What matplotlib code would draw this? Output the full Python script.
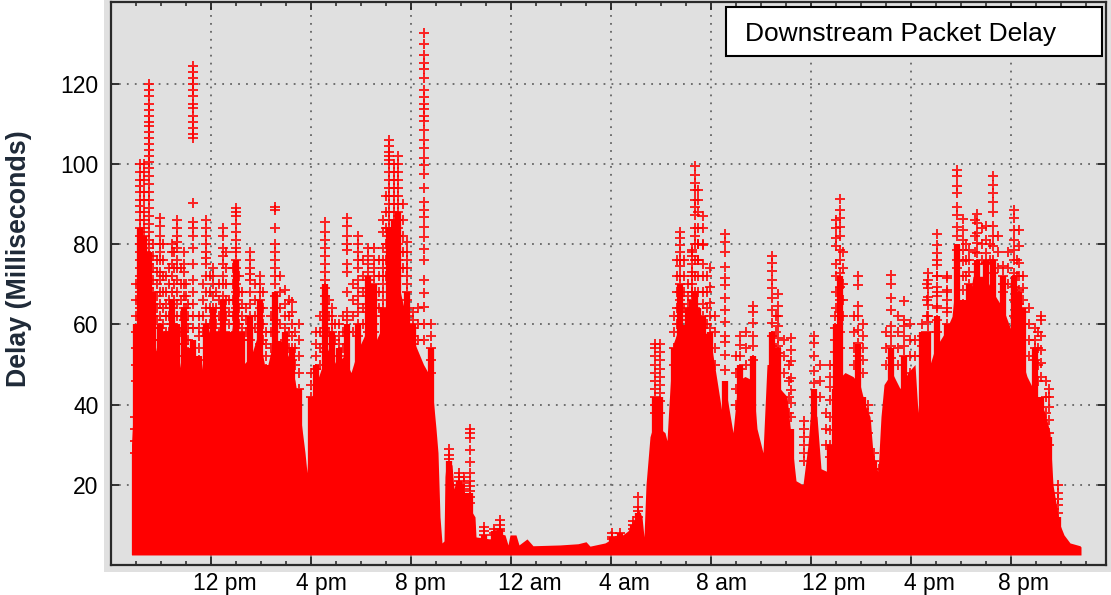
import matplotlib
matplotlib.use('Agg')
import matplotlib.pyplot as plt
from matplotlib.patches import Rectangle

plt.rcParams['font.family'] = ['Liberation Sans', 'DejaVu Sans']

# time axis is in hours counted from midnight of the first day
major_hours = [12, 16, 20, 24, 28, 32, 36, 40, 44]
label_hours = [12.56, 16.4, 20.4, 24.76, 28.52, 32.44, 36.92, 40.72, 44.52]
hour_labels = ['12 pm', '4 pm', '8 pm', '12 am', '4 am', '8 am', '12 pm', '4 pm', '8 pm']
delay_ticks = [20, 40, 60, 80, 100, 120]
floor_delay = 2.5

# top of the solid red body
body_hours = [8.82, 8.92, 9.04, 9.2, 9.4, 9.6, 9.76, 9.92, 10.1, 10.3, 10.5, 10.7, 10.9, 11.1, 11.3,
              11.5, 11.7, 11.9, 12.1, 12.3, 12.5, 12.7, 12.9, 13.1, 13.3, 13.6, 13.9, 14.2, 14.5, 14.8,
              15.1, 15.36, 15.56, 15.76, 15.84, 15.92, 16.04, 16.36, 16.7, 17.0, 17.3, 17.6, 17.9, 18.2,
              18.6, 18.9, 19.2, 19.5, 19.8, 20.1, 20.5, 20.68, 20.88, 21.0, 21.08, 21.16, 21.24, 21.32,
              21.36, 21.4, 21.64, 21.72, 21.8, 22.12, 22.16, 22.36, 22.56, 22.6, 23.16, 23.44, 23.76,
              23.88, 23.96, 24.2, 24.32, 24.64, 24.88, 25.96, 26.68, 27.0, 27.16, 27.76, 28.04, 28.36,
              28.68, 28.88, 29.08, 29.24, 29.32, 29.4, 29.56, 29.76, 29.96, 30.16, 30.24, 30.32, 30.4,
              30.48, 30.76, 31.16, 31.56, 31.96, 32.24, 32.44, 32.64, 32.88, 33.08, 33.36, 33.68, 33.84,
              34.08, 34.24, 34.48, 34.76, 35.04, 35.24, 35.4, 35.68, 35.88, 36.0, 36.24, 36.4, 36.76,
              36.92, 37.04, 37.36, 37.68, 37.96, 38.16, 38.36, 38.48, 38.68, 38.8, 38.92, 39.24, 39.56,
              39.88, 40.16, 40.28, 40.4, 40.76, 40.96, 41.36, 41.64, 41.84, 42.0, 42.24, 42.48, 42.96,
              43.28, 43.68, 44.04, 44.24, 44.64, 45.04, 45.36, 45.56, 45.68, 45.84, 45.96, 46.12, 46.36,
              46.76, 46.8]
body_delay = [30, 42, 50, 58, 62, 62, 55, 50, 48, 52, 47, 52, 45, 50, 56,
              44, 52, 58, 62, 50, 60, 52, 62, 55, 50, 52, 58, 48, 56, 56,
              52, 46, 38, 28, 23, 33, 42, 48, 54, 50, 52, 48, 54, 58,
              56, 60, 66, 70, 62, 56, 50, 48, 42, 34, 28, 12, 5.5, 6,
              22, 25, 25, 19, 21, 20, 15, 14, 12, 7, 6.5, 8, 7.5,
              5, 7.5, 7.5, 5, 6.5, 4.8, 5, 5.3, 5.8, 4.7, 5.5, 6.5, 7,
              8.5, 10.5, 14, 12, 7, 20, 32, 36, 34, 33, 31, 40, 48,
              55, 60, 60, 59, 57, 46, 38, 42, 33, 46, 47, 46, 34,
              28, 50, 50, 44, 42, 30, 21, 20, 30, 39, 37, 24, 23,
              38, 46, 48, 47, 45, 40, 37, 28, 23, 37, 45, 48, 44,
              48, 50, 38, 50, 50, 54, 58, 62, 74, 62, 62, 72, 72,
              68, 64, 58, 55, 47, 42, 38, 33, 20, 14, 10, 7.5, 5.5,
              4.8, 4.5]

# columns of single samples that stick out above the body
spike_hours = [8.95, 8.98, 9.16, 9.32, 9.52, 9.7, 9.96, 10.2, 10.44, 10.64, 10.92, 11.08, 11.28,
               11.52, 11.8, 12.08, 12.3, 12.48, 12.72, 13.0, 13.24, 13.56, 13.96, 14.2, 14.56, 14.96,
               15.24, 15.5, 16.0, 16.2, 16.56, 16.84, 17.1, 17.44, 17.88, 18.28, 18.52, 18.88, 19.12,
               19.3, 19.48, 19.84, 20.08, 20.52, 20.8, 21.5, 21.9, 22.1, 22.36, 22.9, 23.3, 23.56,
               28.03, 28.36, 28.88, 29.08, 29.76, 29.96, 30.5, 30.76, 31.08, 31.24, 31.36, 31.48, 31.68,
               31.96, 32.56, 33.16, 33.68, 34.44, 34.68, 35.72, 35.2, 36.12, 36.76, 36.96, 37.16, 37.0,
               37.88, 38.08, 38.3, 38.5, 38.7, 39.2, 39.72, 40.44, 40.68, 41.04, 41.44, 41.84, 42.08,
               42.3, 42.64, 43.0, 43.28, 43.68, 44.12, 44.32, 44.48, 44.96, 45.2, 45.52, 45.88]
# height up to which each column has merged into solid red
spike_solid = [28, 60, 84, 82, 78, 68, 60, 58, 66, 60, 64, 54, 56,
               52, 60, 64, 58, 66, 58, 76, 58, 62, 66, 50, 68, 58,
               54, 44, 42, 50, 70, 58, 54, 60, 60, 72, 70, 64, 84,
               86, 88, 68, 60, 48, 54, 26, 21, 18, 18, 7.5, 8.5, 9,
               7, 8, 10, 13, 42, 42, 54, 70, 64, 66, 68, 64, 62,
               58, 46, 50, 52, 58, 54, 20, 34, 44, 30, 44, 72, 60,
               55, 42, 36, 26, 23, 54, 52, 58, 58, 62, 60, 80, 66,
               70, 76, 76, 76, 72, 72, 68, 64, 54, 42, 32, 12]
spike_delays = [
    [37, 34, 31, 28],
    [70, 66, 62, 58, 54, 50, 46],
    [100, 98, 96, 94.5, 93, 91, 89.5, 88, 86, 84, 82, 80, 78, 76, 74, 72, 70, 68, 66, 64, 62],
    [100, 98, 96, 93, 91, 88, 86, 84, 82, 80, 77, 74, 71, 69, 66, 63],
    [120, 118.5, 117, 115, 113.5, 112, 110.5, 109.5, 108, 106.5, 105, 103.5, 102, 100.5, 99, 97, 95, 93,
     91, 89, 87, 85, 83, 81, 79, 77, 75, 73, 71, 69, 67, 65, 63],
    [80, 77, 74, 71, 68, 65, 62, 59, 56],
    [86.5, 84.5, 82, 80, 78, 76, 73, 71, 68, 65, 62, 59, 56, 53],
    [72, 68, 65, 62, 58, 55, 52],
    [80, 78, 75, 72, 68, 64, 60, 56, 52],
    [86, 84, 82, 80.5, 79, 76, 74, 71, 68, 65, 62, 59, 55, 52],
    [78, 75, 73, 70, 67, 64, 61, 58, 55],
    [65, 62, 59, 56, 53, 50],
    [124.5, 123, 121.5, 120, 118.5, 117, 115, 114, 112, 110.5, 109, 107.5, 106.5, 90.3, 85.6, 84, 82, 79,
     75, 71, 68, 65, 62, 59],
    [62, 59, 57, 54, 51],
    [86, 84, 82, 80, 78, 76.5, 75, 72, 68, 64, 60, 57],
    [74, 72, 70, 67, 64, 62, 59, 56],
    [70, 66, 62, 58, 55],
    [84, 82, 79, 77, 75, 72, 70, 67, 64, 61, 58, 56],
    [66, 63, 60, 57, 54],
    [89, 88, 87, 85, 83, 81, 79, 78, 76, 74, 72, 70, 68, 66, 64, 62, 60, 58],
    [68, 65, 62, 59, 56],
    [78, 76, 74, 72.5, 71, 68, 65, 62, 59, 56],
    [72, 70, 68, 66, 64, 62, 60, 58, 55],
    [58, 55, 52, 49],
    [89.3, 88.5, 84, 80, 78, 76, 74, 72, 70, 67, 64, 61, 58],
    [68.6, 65, 62, 59, 56],
    [65.6, 63, 60, 57, 54, 51],
    [60, 56, 52, 48, 44],
    [48, 45, 42],
    [58, 55, 52, 49],
    [85.6, 83, 81, 79, 77, 75, 73, 71, 69, 67, 65, 63, 61, 59, 57, 55, 53],
    [64, 62, 60, 58, 55],
    [60, 57, 55, 52],
    [86.5, 84.5, 82, 80, 78.5, 75, 73, 68, 63, 61, 58],
    [82, 80, 78, 76, 74, 71, 69, 67, 65, 63, 60, 57],
    [79, 77, 75, 73, 71, 69, 67, 65, 63, 60, 58],
    [79, 76, 74, 72, 70, 68, 66, 64, 62, 60, 58],
    [86, 83, 79, 76, 74, 72, 70, 68, 66, 64, 62],
    [106, 104.5, 103, 102, 101, 100, 98, 96, 94, 92, 90, 88, 86, 84, 82, 80, 78, 76, 74, 72],
    [100, 98, 96, 94, 92, 90, 88, 86, 84, 82, 80, 78, 76, 74, 72, 70],
    [102, 100, 98, 96, 94, 92, 90, 88, 86, 84, 82, 80, 78, 76, 74, 72],
    [80.6, 78, 76, 74, 72, 70, 68, 66, 64, 62, 60],
    [63, 61, 59, 57, 55, 53],
    [132.6, 130, 127.2, 125.2, 123.7, 121.4, 118.5, 116.7, 115, 113.7, 112, 110.6, 108.5, 105.9, 104,
     101.5, 99.8, 97.6, 94, 90.6, 88.6, 86.9, 84.4, 81.9, 78.8, 76, 71.1, 67.8, 64.3, 60, 56],
    [60, 57, 54, 51, 48],
    [29, 27.5, 26.5],
    [23, 22, 21, 20, 18],
    [22, 20.5, 19, 17],
    [33.9, 33, 31.6, 28.6, 25.7, 23, 21, 19.7, 18.5, 17, 15.5],
    [9.5, 8.5, 7.5],
    [9, 8, 7.5],
    [11.3, 10, 9, 8.5],
    [8, 7, 6.5],
    [8, 7, 6.5],
    [11, 10, 9],
    [17, 14.5, 13.4, 12],
    [55, 54, 52, 50, 48, 46, 44, 42, 40, 38],
    [55, 53, 51, 49, 47, 45, 43, 41, 38],
    [62, 58, 54, 50],
    [83, 81.6, 79.7, 78, 76, 74.5, 72, 70, 68, 66, 64, 62],
    [70, 67, 65, 63, 61],
    [78.6, 78, 77, 75, 73, 70, 68, 66, 62],
    [99.4, 97.3, 95.2, 93.6, 91, 89.4, 87.3, 84, 82, 80, 76, 72, 68, 64],
    [93.6, 91, 88, 84, 80, 76],
    [87, 84, 80, 79.8, 75, 72, 68, 65, 62, 60],
    [74, 69.4, 65.3, 62, 59],
    [82.6, 80.5, 78, 74.4, 71.5, 69.8, 66.5, 63.6, 60.7, 57, 55.7, 52.4, 48.7],
    [57, 54.9, 52, 49],
    [64.7, 63, 60.3, 57, 54.5, 51],
    [77, 75.3, 73.2, 71, 69, 66.5, 63.6, 60.3, 57],
    [67.7, 64.5, 62, 59.5, 56.6, 54.5, 52.8],
    [36, 34, 32, 30, 28, 26],
    [56.6, 53.7, 50.8, 46.6, 43.7, 40.4, 37],
    [57, 55.3, 52, 48.3, 45.3, 42],
    [49.9, 47, 44.5, 41.2, 37, 33.7, 30, 27],
    [62, 59, 56, 53, 50],
    [91.3, 88.6, 86.5, 84.4, 82, 78.6, 76, 72.7, 69.4, 66, 62, 58, 54],
    [86, 84, 81.5, 79.5, 75, 72, 68, 64],
    [72, 69.8, 64.5, 62, 58.6, 55.3, 52],
    [60, 57, 54, 51, 48],
    [40, 38, 36, 33],
    [28, 26, 24],
    [24, 22],
    [72.3, 70.2, 66.5, 63.6, 59.5, 57, 54.5, 51.5],
    [65.8, 61, 59.5, 57, 54.5, 52],
    [60, 57, 54.5, 52],
    [72.7, 71, 69, 66.9, 64.8, 62, 60.6, 58],
    [82.6, 79.8, 77.8, 74.8, 72, 69.4, 67, 64.5, 61, 58],
    [71.5, 68.6, 66, 63, 60],
    [98.5, 96.9, 94.4, 92.7, 89.4, 87.3, 84.4, 82, 78.6, 76, 74],
    [86.3, 83.6, 81, 78.6, 75.7, 72, 68.6, 65, 62],
    [78.6, 76, 73, 70],
    [87.6, 85.2, 82.8, 80.3, 77.8, 75],
    [84.6, 81, 77.8, 75.3],
    [97, 94.8, 92.7, 90.6, 88, 84.6, 82, 79.5, 76, 72.8],
    [74.6, 72, 70, 68],
    [88.5, 86.5, 83.6, 81, 78.6, 76, 72.8, 69.4, 66, 62],
    [83.6, 79.5, 75.3, 72, 68.6, 65, 61],
    [72, 69, 66, 63, 60],
    [59, 56, 54, 51],
    [62, 61, 57, 53.7, 50.4, 47],
    [44, 42, 39.5, 36.2, 33, 30],
    [20, 18, 16.5, 15, 13],
]

# shorter columns in the gaps between the tall ones
gap_hours = [9.4, 9.84, 10.08, 10.32, 10.52, 10.8, 11.0, 11.66, 11.94, 12.2, 12.6, 12.86, 13.12, 13.4,
             13.76, 14.08, 14.4, 14.76, 15.1, 15.36, 16.36, 16.7, 16.96, 17.26, 17.66, 18.08, 18.7, 19.0,
             19.66, 20.28, 30.64, 30.9, 31.24, 31.46, 31.84, 32.14, 33.0, 33.4, 34.6, 34.9, 35.1, 36.36,
             36.6, 37.3, 37.7, 39.0, 39.48, 39.96, 40.14, 40.66, 41.04, 41.44, 42.2, 42.56, 42.84, 43.14,
             43.46, 43.86, 44.22, 44.7, 45.08, 45.4]
gap_delays = [
    [78, 75, 72, 69, 66], [76, 73, 70, 67, 64, 61], [80, 76, 72, 68, 64, 60], [74, 70, 66, 62, 58],
    [78, 74, 70, 66, 62], [74, 70, 66, 62, 58], [70, 67, 64, 60, 56], [70, 66, 62, 58],
    [72, 68, 64, 60], [68, 64, 60], [78, 74, 70, 66, 62], [74, 70, 66, 62], [72, 68, 64, 60],
    [64, 61, 58], [70, 66, 62, 59], [68, 64, 60, 56], [62, 58, 54], [72, 68, 64, 60],
    [66, 62, 58, 54], [58, 54, 50], [62, 58, 54, 50], [66, 62, 58], [60, 56], [62, 58, 54],
    [70, 66, 62, 58], [76, 72, 68, 64, 60], [76, 72, 68, 64], [92, 88, 84, 80, 76, 72],
    [90, 86, 82, 78, 74], [64, 60, 56], [76, 72, 68, 64, 60], [76, 72, 68, 64], [72, 68, 64, 60],
    [80, 76, 72, 68], [72, 68, 64, 60], [62, 58, 54, 50], [52, 48, 44, 40], [58, 54, 50],
    [62, 58, 54, 50], [56, 52, 48], [50, 46, 42, 38], [50, 46, 42], [38, 34, 30],
    [78, 74, 70, 66, 62], [62, 58, 54, 50], [58, 54, 50], [62, 58, 54, 50], [60, 56, 52, 48],
    [56, 52], [70, 66, 62], [76, 72, 68, 64], [72, 68, 64], [80, 76, 72], [86, 82, 78],
    [84, 80, 76], [80, 76], [82, 78, 74], [78, 74, 70], [76, 72, 68, 64], [64, 60, 56, 52],
    [58, 54, 50, 46], [46, 42, 38],
]

fig = plt.figure(figsize=(11.11, 5.95), dpi=100)
W, H = 1111.0, 595.0

'Gray panel that sits behind the axes'
fig.patches.append(Rectangle((104 / W, 1 - 572 / H), 1007 / W, 572 / H, transform=fig.transFigure,
                             facecolor='#e0e0e0', edgecolor='none', zorder=0))

ax = fig.add_axes([111 / W, 1 - 565 / H, 995 / W, 563 / H])
ax.set_zorder(2)
ax.set_facecolor('#e0e0e0')
ax.set_xlim(8, 47.8)
ax.set_ylim(0, 140.4)

ax.fill_between(body_hours, floor_delay, body_delay, color='#ff0000', linewidth=0, zorder=3)
ax.vlines(spike_hours, floor_delay, spike_solid, color='#ff0000', linewidth=4.5, zorder=3)
for hour, delays in zip(spike_hours + gap_hours, spike_delays + gap_delays):
    ax.plot([hour] * len(delays), delays, linestyle='none', marker='+', markersize=7,
            markeredgewidth=1.4, color='#ff0000', alpha=0.85, zorder=4)

ax.set_xticks(major_hours)
ax.set_xticks([h for h in range(9, 48) if h not in major_hours], minor=True)
ax.set_yticks(delay_ticks)
ax.set_xticklabels([])
ax.tick_params(axis='both', which='major', direction='in', length=6, width=1.3, top=True, right=True,
               color='#222222')
ax.tick_params(axis='x', which='minor', direction='in', length=3, width=1.1, top=True, color='#222222')
ax.tick_params(axis='y', labelsize=16.5, pad=9)
ax.grid(True, which='major', linestyle=(0, (1, 3.4)), color='#666666', linewidth=1.3)
ax.set_axisbelow(True)
for spine in ax.spines.values():
    spine.set_linewidth(1.6)
    spine.set_color('#2a2a2a')

for hour, label in zip(label_hours, hour_labels):
    ax.text(hour, -25 / 563, label, transform=ax.get_xaxis_transform(), ha='center', va='baseline',
            fontsize=16.5, color='black')

fig.text(19 / W, 1 - 259 / H, 'Delay (Milliseconds)', rotation=90, ha='center', va='center',
         fontsize=19.3, fontweight='bold', color='#1f2a38')

'Title box'
ax.add_patch(Rectangle(((726 - 111) / 995, (565 - 56) / 563), 376 / 995, 49 / 563, transform=ax.transAxes,
                       facecolor='white', edgecolor='black', linewidth=1.5, zorder=6))
ax.text((745 - 111) / 995, (565 - 34) / 563, 'Downstream Packet Delay', transform=ax.transAxes,
        ha='left', va='center', fontsize=19, color='black', zorder=7)

plt.savefig('out.png', dpi=100)
